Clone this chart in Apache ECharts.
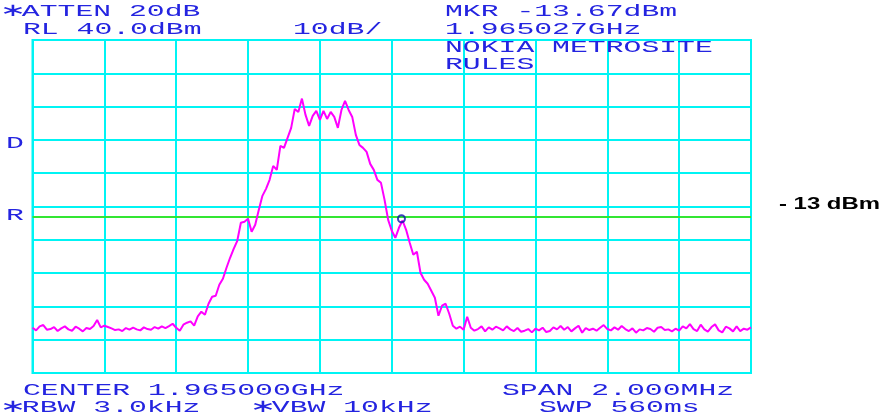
<!DOCTYPE html>
<html>
<head>
<meta charset="utf-8">
<script src="https://cdn.jsdelivr.net/npm/echarts@6/dist/echarts.min.js"></script>
<style>
  html, body { margin: 0; padding: 0; background: #ffffff; }
  #chart { width: 885px; height: 417px; }
</style>
</head>
<body>
<div id="chart"></div>
<script>
// Sweep: centre 1.965000 GHz, span 2.000 MHz; x in kHz offset from centre.
const sweepStartKHz = -1000;
const sweepStepKHz = 10;

// Trace level per sweep point (dBm), 201 points.
const traceLevels = [
  -46.4, -47.2, -46.0, -45.6, -47.0, -46.8, -46.2, -47.4, -46.6, -46.0,
  -46.9, -47.3, -46.1, -46.7, -47.5, -46.5, -46.8, -45.9, -44.1, -46.3,
  -45.8, -46.2, -46.6, -47.1, -46.9, -47.4, -46.5, -47.0, -46.4, -46.9,
  -47.2, -46.3, -46.8, -47.0, -46.2, -46.7, -46.0, -46.5, -45.9, -45.2,
  -46.4, -47.3, -45.5, -44.9, -44.5, -45.8, -43.0, -41.6, -42.5, -39.2,
  -37.1, -36.8, -33.5, -31.7, -28.4, -25.4, -22.7, -20.3, -14.9, -14.6,
  -13.7, -17.6, -15.5, -11.0, -6.8, -4.7, -2.0, 2.2, 1.0, 8.2,
  7.6, 10.6, 13.6, 19.3, 18.4, 22.4, 17.5, 14.2, 17.2, 18.7,
  16.0, 18.7, 16.3, 18.4, 16.9, 13.6, 19.0, 21.7, 19.0, 16.9,
  11.5, 8.5, 7.6, 6.4, 2.8, 1.0, -2.0, -2.9, -8.0, -14.0,
  -17.3, -19.4, -16.4, -14.2, -17.0, -20.9, -24.5, -23.6, -29.9, -32.0,
  -33.2, -35.3, -37.4, -42.8, -39.8, -39.2, -42.2, -45.8, -46.7, -46.1,
  -47.0, -43.1, -46.4, -47.3, -46.8, -46.0, -47.5, -46.3, -47.0, -46.1,
  -46.6, -47.2, -46.0, -46.9, -47.4, -46.5, -47.6, -47.3, -46.8, -47.8,
  -46.7, -47.2, -46.4, -47.7, -47.4, -46.3, -46.9, -45.9, -47.0, -46.2,
  -47.5, -46.6, -45.8, -47.9, -46.5, -47.1, -46.7, -47.3, -46.4, -45.6,
  -46.8, -47.2, -46.3, -47.0, -45.9, -46.8, -47.4, -46.6, -47.9, -46.9,
  -47.2, -46.5, -46.8, -47.6, -46.4, -46.2, -47.1, -46.9, -47.5, -46.7,
  -47.3, -46.0, -46.6, -45.3, -46.8, -47.4, -45.5, -46.9, -47.6, -46.2,
  -45.4, -47.2, -47.8, -46.1, -46.6, -47.5, -46.0, -47.4, -46.7, -47.0,
  -46.3
];

// Marker readout
const markerFreqKHz = 27;        // 1.965027 GHz
const markerLevel = -13.67;      // dBm
const limitLevel = -13;          // dBm display line

// Amplitude scale: RL 40 dBm, 10 dB/div, 10 divisions
const refLevel = 40;
const dbPerDiv = 10;

// Instrument annotation text ({s|..} marks the centred star glyph)
const headerLines = [
  { text: '{s|∗}ATTEN 20dB', x: 4, y: 11 },
  { text: 'RL 40.0dBm', x: 23, y: 29 },
  { text: '10dB/', x: 293, y: 29 },
  { text: 'MKR -13.67dBm', x: 445, y: 11 },
  { text: '1.965027GHz', x: 445, y: 29 },
  { text: 'NOKIA METROSITE', x: 445, y: 47.5 },
  { text: 'RULES', x: 445, y: 64 },
  { text: 'CENTER 1.965000GHz', x: 23, y: 390 },
  { text: '{s|∗}RBW 3.0kHz', x: 4, y: 407 },
  { text: '{s|∗}VBW 10kHz', x: 254, y: 407 },
  { text: 'SPAN 2.000MHz', x: 502, y: 390 },
  { text: 'SWP 560ms', x: 539, y: 407 },
  { text: 'D', x: 6, y: 143 },
  { text: 'R', x: 6, y: 215 }
];

const traceData = traceLevels.map((v, i) => [sweepStartKHz + i * sweepStepKHz, v]);

const BLUE = '#2424e0';
const CYAN = '#00f4f4';
const monoFont = '"Liberation Mono", "DejaVu Sans Mono", monospace';

const textGraphics = headerLines.map(l => ({
  type: 'text',
  x: l.x,
  y: l.y,
  scaleX: 1.75,
  z: 100,
  style: {
    text: l.text,
    fill: BLUE,
    font: '17px ' + monoFont,
    textAlign: 'left',
    verticalAlign: 'middle',
    rich: {
      s: { font: '18px "DejaVu Sans", sans-serif', fill: BLUE, width: 10.2, align: 'center' }
    }
  }
}));

textGraphics.push({
  type: 'text',
  x: 779,
  y: 204,
  scaleX: 1.45,
  z: 100,
  style: {
    text: '- 13 dBm',
    fill: '#000000',
    font: 'bold 16.5px "Liberation Sans", Arial, sans-serif',
    textAlign: 'left',
    verticalAlign: 'middle'
  }
});

const chart = echarts.init(document.getElementById('chart'), null, { renderer: 'canvas' });

chart.setOption({
  backgroundColor: '#ffffff',
  animation: false,
  grid: {
    left: 32.5, top: 40, right: 134, bottom: 44,
    show: true, borderColor: CYAN, borderWidth: 2, backgroundColor: 'transparent'
  },
  xAxis: {
    type: 'value',
    min: -1000, max: 1000, interval: 200,
    axisLine: { show: false },
    axisTick: { show: false },
    axisLabel: { show: false },
    splitLine: { show: true, lineStyle: { color: CYAN, width: 2 } }
  },
  yAxis: {
    type: 'value',
    min: refLevel - 10 * dbPerDiv, max: refLevel, interval: dbPerDiv,
    axisLine: { show: false },
    axisTick: { show: false },
    axisLabel: { show: false },
    splitLine: { show: true, lineStyle: { color: CYAN, width: 2 } }
  },
  series: [
    {
      type: 'line',
      data: traceData,
      showSymbol: false,
      symbol: 'none',
      lineStyle: { color: '#ff00ff', width: 2 },
      z: 5,
      markLine: {
        silent: true,
        symbol: 'none',
        label: { show: false },
        lineStyle: { color: '#33e633', width: 2, type: 'solid' },
        data: [{ yAxis: limitLevel }],
        z: 4
      }
    },
    {
      type: 'scatter',
      data: [[markerFreqKHz, markerLevel]],
      symbol: 'circle',
      symbolSize: 7,
      itemStyle: { color: 'rgba(255,255,255,0)', borderColor: '#1010b0', borderWidth: 2 },
      z: 10
    }
  ],
  graphic: textGraphics
});
</script>
</body>
</html>
